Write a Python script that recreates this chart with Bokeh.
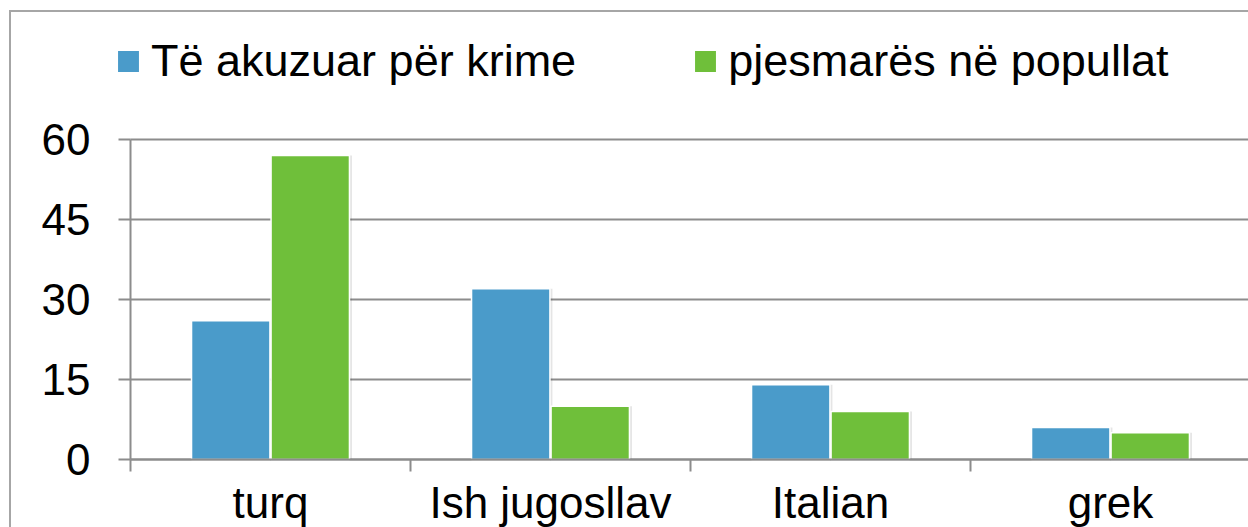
from bokeh.plotting import figure
from bokeh.models import (Range1d, FixedTicker, ColumnDataSource, Legend,
                          LegendItem, LinearAxis, InlineStyleSheet)
from bokeh.transform import dodge
from bokeh.embed import file_html
from bokeh.resources import INLINE

# ---- data ----
categories = ["turq", "Ish jugosllav", "Italian", "grek"]
series_names = ["Të akuzuar për krime", "pjesmarës në popullat"]
accused = [26, 32, 14, 6]
population = [57, 10, 9, 5]
y_ticks = [0, 15, 30, 45, 60]
y_min, y_max = 0, 60

# ---- layout (pixels) ----
W, H = 1248, 527
AX_LEFT, AX_TOP, AX_BOTTOM = 130, 139, 459   # plot area edges
CAT_PX = 280                                 # width of one category slot

FONT = "Liberation Sans"
BLUE = "#4a9bca"
GREEN = "#6fbf3a"
GRID = "#8c8c8c"

n = len(categories)
x_pos = list(range(n))
src = ColumnDataSource(dict(x=x_pos, cat=categories, a=accused, b=population))

# the frame fills the whole canvas; the axes sit at fixed data positions
px_per_y = (AX_BOTTOM - AX_TOP) / (y_max - y_min)
x0 = -0.5 - AX_LEFT / CAT_PX
x1 = -0.5 + (W - AX_LEFT) / CAT_PX
ylo = y_min - (H - AX_BOTTOM) / px_per_y
yhi = y_max + AX_TOP / px_per_y

p = figure(width=W, height=H, output_backend="svg", toolbar_location=None,
           x_range=Range1d(x0, x1), y_range=Range1d(ylo, yhi),
           x_axis_location=None, y_axis_location=None,
           min_border=0, min_border_left=0, min_border_right=0,
           min_border_top=0, min_border_bottom=0)
p.outline_line_color = None
p.background_fill_color = "white"
p.border_fill_color = "white"
p.xgrid.visible = False
p.ygrid.visible = False

# chart-area border (top and left edges; the rest lies outside the picture)
p.stylesheets = [InlineStyleSheet(css="""
:host::after {
  content: ""; position: absolute; left: 9px; top: 10px; right: 0; bottom: 0;
  border-top: 2px solid #a6a6a6; border-left: 2px solid #a6a6a6;
  pointer-events: none;
}
""")]

# horizontal grid lines across the category slots
p.segment(x0=[-0.5] * len(y_ticks), x1=[n - 0.5] * len(y_ticks),
          y0=y_ticks, y1=y_ticks, line_color=GRID, line_width=2)

# soft shadows
for off, col in ((-0.142, "a"), (0.142, "b")):
    p.vbar(x=dodge("x", off + 0.004), top=col, width=0.29, source=src,
           fill_color="#000000", fill_alpha=0.10, line_color=None)

r1 = p.vbar(x=dodge("x", -0.142), top="a", width=0.28, source=src,
            fill_color=BLUE, line_color="white", line_width=1.5)
r2 = p.vbar(x=dodge("x", 0.142), top="b", width=0.28, source=src,
            fill_color=GREEN, line_color="white", line_width=1.5)

# x axis
xa = LinearAxis(fixed_location=y_min, bounds=(-0.5, n - 0.5))
xa.ticker = FixedTicker(ticks=x_pos, minor_ticks=[i - 0.5 for i in range(n + 1)])
xa.major_label_overrides = {i: c for i, c in zip(x_pos, categories)}
xa.major_tick_line_color = None
xa.minor_tick_line_color = GRID
xa.minor_tick_line_width = 2
xa.minor_tick_out = 12
xa.minor_tick_in = 0
xa.axis_line_color = GRID
xa.axis_line_width = 2
xa.major_label_text_font = FONT
xa.major_label_text_font_size = "44px"
xa.major_label_text_color = "black"
xa.major_label_standoff = 6
p.add_layout(xa, "below")

# y axis
ya = LinearAxis(fixed_location=-0.5, bounds=(y_min, y_max))
ya.ticker = FixedTicker(ticks=y_ticks)
ya.major_tick_line_color = GRID
ya.major_tick_line_width = 2
ya.major_tick_out = 12
ya.major_tick_in = 0
ya.minor_tick_line_color = None
ya.axis_line_color = GRID
ya.axis_line_width = 2
ya.major_label_text_font = FONT
ya.major_label_text_font_size = "44px"
ya.major_label_text_color = "black"
ya.major_label_standoff = 28
p.add_layout(ya, "left")

legend = Legend(items=[LegendItem(label=series_names[0], renderers=[r1]),
                       LegendItem(label=series_names[1], renderers=[r2])],
                orientation="horizontal", location=(114, 440),
                label_text_font=FONT, label_text_font_size="45px",
                label_text_color="black",
                glyph_width=28, glyph_height=28, label_standoff=9,
                spacing=115, padding=0, margin=0,
                border_line_color=None, background_fill_alpha=0)
p.add_layout(legend, "center")

open("out.html", "w").write(file_html(p, INLINE))
